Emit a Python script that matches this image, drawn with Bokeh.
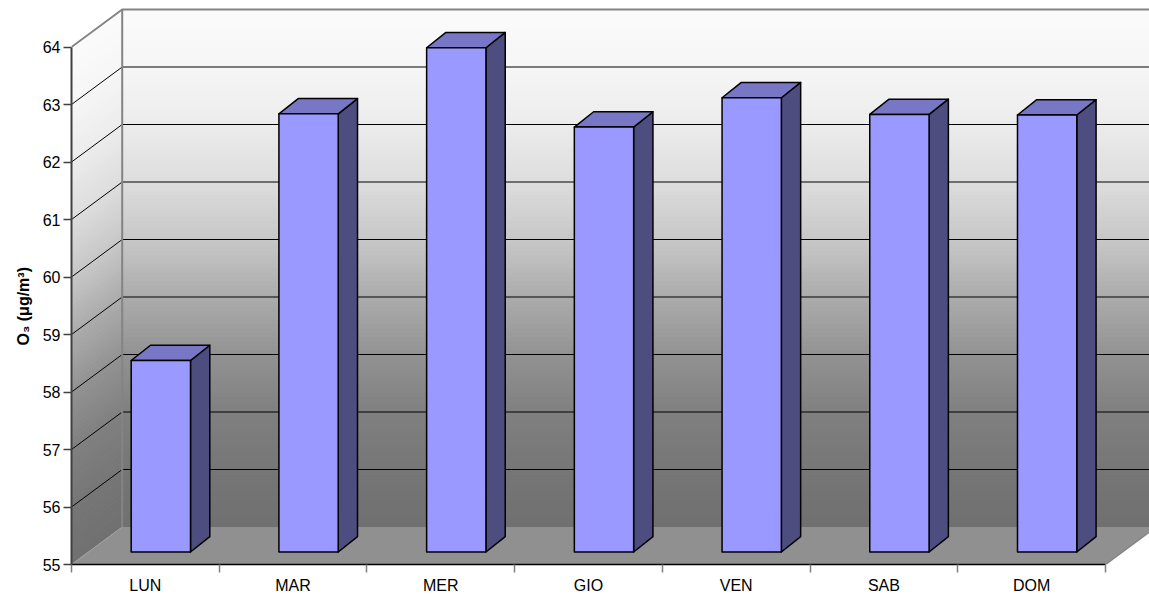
import numpy as np
from bokeh.plotting import figure
from bokeh.models import FixedTicker, Range1d, Title
from bokeh.embed import file_html
from bokeh.resources import INLINE

# ---------------- data ----------------
days = ["LUN", "MAR", "MER", "GIO", "VEN", "SAB", "DOM"]
o3 = [58.33, 62.62, 63.77, 62.39, 62.90, 62.61, 62.60]
y_ticks = [55, 56, 57, 58, 59, 60, 61, 62, 63, 64]
y_label = "O\u2083  (\u03bcg/m\u00b3)"

# ---------------- geometry / style ----------------
Y0, Y1 = 55, 64
PX_X = 1034 / 7.0          # pixels per category
PX_Y = 57.5                # pixels per unit
DX = 50.7 / PX_X           # depth offset (data units)
DY = 37.5 / PX_Y
BAR_L = 59.7 / PX_X
BAR_W = 59.3 / PX_X
BAR_FY = 12.5 / PX_Y
BAR_DX = 19.3 / PX_X       # bar depth
BAR_DY = 15.3 / PX_Y

W, H = 1149, 596
LEFT, BOTTOM = 71, 32
x_end = (W - LEFT) / PX_X
y_end = Y0 + (H - BOTTOM) / PX_Y

p = figure(width=W, height=H, output_backend="svg", toolbar_location=None,
           x_range=Range1d(0, x_end), y_range=Range1d(Y0, y_end),
           min_border_left=LEFT, min_border_right=0, min_border_top=0,
           min_border_bottom=BOTTOM)
p.outline_line_color = None
p.xgrid.visible = False
p.ygrid.visible = False
p.background_fill_color = "white"
p.border_fill_color = "white"

# wall gradient (value -> grey level)
grad_v = [55, 56, 57, 58, 59, 60, 61, 62, 63, 64, 64.7]
grad_c = [112, 118, 128, 146, 172, 199, 221, 236, 246, 251, 253]

def grey(v):
    g = int(round(np.interp(v, grad_v, grad_c)))
    return "#%02x%02x%02x" % (g, g, g)

N = 120
edges = np.linspace(Y0, Y1, N + 1)
mids = (edges[:-1] + edges[1:]) / 2
cols = [grey(v) for v in mids]
eps = 0.012
# back wall
p.quad(left=DX, right=x_end + 1, bottom=edges[:-1] + DY, top=edges[1:] + DY + eps,
       fill_color=cols, line_color=None)
# side wall
xs = [[0, DX, DX, 0] for _ in range(N)]
ys = [[b, b + DY, t + DY + eps, t + eps] for b, t in zip(edges[:-1], edges[1:])]
p.patches(xs, ys, fill_color=cols, line_color=None)
# floor
p.patch([0, 7, 7 + DX, DX], [Y0, Y0, Y0 + DY, Y0 + DY], fill_color="#909090", line_color=None)

# gridlines
for v in y_ticks[1:-1]:
    p.line([DX, x_end + 1], [v + DY, v + DY], line_color="black", line_width=1)
    p.line([0, DX], [v, v + DY], line_color="black", line_width=1)

# wall edges
edge_c = "#848484"
p.line([0, DX, x_end + 1], [Y1, Y1 + DY, Y1 + DY], line_color=edge_c, line_width=2)
p.line([DX, DX], [Y0 + DY, Y1 + DY], line_color=edge_c, line_width=2)
p.line([0, DX], [Y0, Y0 + DY], line_color="#a0a0a0", line_width=1)
p.line([7, 7 + DX], [Y0, Y0 + DY], line_color=edge_c, line_width=1.5)

# bars
front_c, top_c, side_c = "#9999FF", "#7777C6", "#4D4D80"
fl, fr, fb, ft = [], [], [], []
txs, tys, sxs, sys_ = [], [], [], []
for i, v in enumerate(o3):
    L = i + BAR_L
    R = L + BAR_W
    B = Y0 + BAR_FY
    T = v + BAR_FY
    fl.append(L); fr.append(R); fb.append(B); ft.append(T)
    txs.append([L, R, R + BAR_DX, L + BAR_DX])
    tys.append([T, T, T + BAR_DY, T + BAR_DY])
    sxs.append([R, R + BAR_DX, R + BAR_DX, R])
    sys_.append([B, B + BAR_DY, T + BAR_DY, T])
p.patches(sxs, sys_, fill_color=side_c, line_color="black", line_width=1.5, line_join="round")
p.patches(txs, tys, fill_color=top_c, line_color="black", line_width=1.5, line_join="round")
p.quad(left=fl, right=fr, bottom=fb, top=ft, fill_color=front_c, line_color="black",
       line_width=1.5, line_join="round")

# x axis
xa = p.xaxis[0]
centers = [i + 0.5 for i in range(len(days))]
xa.ticker = FixedTicker(ticks=centers, minor_ticks=list(range(len(days) + 1)))
xa.major_label_overrides = {c: d for c, d in zip(centers, days)}
xa.bounds = (0, len(days))
xa.axis_line_color = "black"
xa.axis_line_width = 1.5
xa.major_tick_line_color = None
xa.major_tick_out = 8
xa.major_tick_in = 0
xa.minor_tick_line_color = "#808080"
xa.minor_tick_line_width = 1.5
xa.minor_tick_out = 8
xa.minor_tick_in = 0
xa.major_label_standoff = 4
xa.major_label_text_font = "Liberation Sans"
xa.major_label_text_font_size = "16px"
xa.major_label_text_color = "black"

# y axis
ya = p.yaxis[0]
ya.ticker = FixedTicker(ticks=y_ticks)
ya.bounds = (Y0, Y1)
ya.axis_line_color = "#404040"
ya.axis_line_width = 2
ya.major_tick_line_color = "#404040"
ya.major_tick_line_width = 1.5
ya.major_tick_out = 8
ya.major_tick_in = 0
ya.minor_tick_line_color = None
ya.major_label_standoff = 3
ya.major_label_text_font = "Liberation Sans"
ya.major_label_text_font_size = "16px"
ya.major_label_text_color = "black"

ttl = Title(text=y_label, align="left", offset=219, standoff=16,
            text_font="Liberation Sans", text_font_size="16px", text_font_style="bold",
            text_color="black")
p.add_layout(ttl, "left")

open("out.html", "w").write(file_html(p, INLINE))
